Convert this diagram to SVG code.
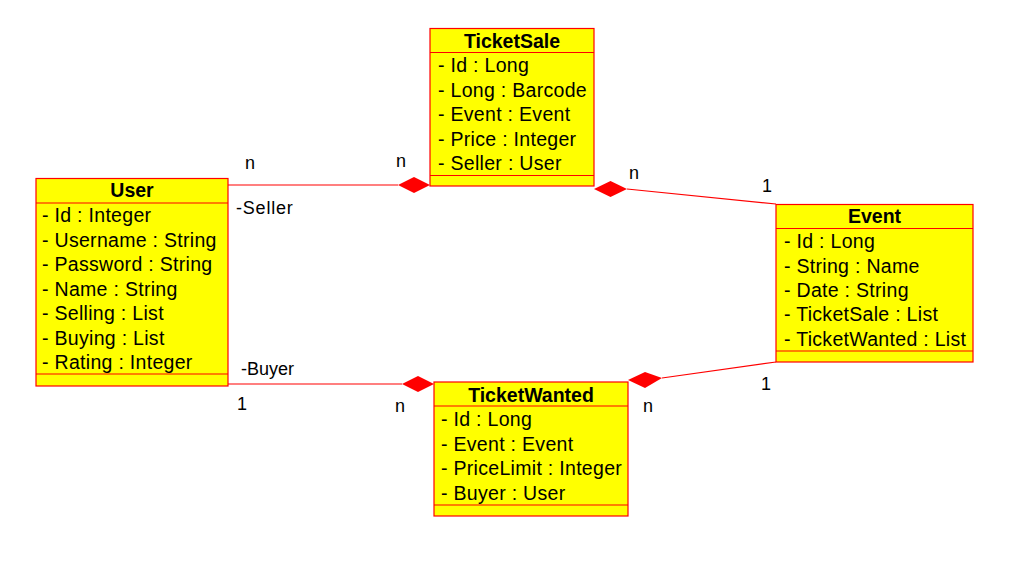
<svg xmlns="http://www.w3.org/2000/svg" width="1013" height="572" viewBox="0 0 1013 572">
<defs>
<style>
.box{fill:#ffff00;stroke:#ff0000;stroke-width:1.2}
.sep{stroke:#ff0000;stroke-width:1.2;fill:none}
.hd{font-family:"Liberation Sans",Arial,sans-serif;font-size:19.5px;font-weight:bold;text-anchor:middle;fill:#000}
.at{font-family:"Liberation Sans",Arial,sans-serif;font-size:19.5px;letter-spacing:0.3px;fill:#000}
.lb{font-family:"Liberation Sans",Arial,sans-serif;font-size:18px;fill:#000}
.ln{stroke:#ff0000;stroke-width:1.2;fill:none}
.dm{fill:#ff0000;stroke:none}
</style>
</defs>
<rect width="1013" height="572" fill="#ffffff"/>
<g id="connectors">
<line class="ln" x1="228" y1="185" x2="398" y2="185"/>
<polygon class="dm" points="398,185 414,177 430,185 414,193"/>
<line class="ln" x1="627" y1="189" x2="776" y2="204"/>
<polygon class="dm" points="594,189 610.5,181 627,189 610.5,197"/>
<line class="ln" x1="228" y1="384" x2="402" y2="384"/>
<polygon class="dm" points="402,384 418,376 434,384 418,392"/>
<line class="ln" x1="662" y1="378" x2="776" y2="362"/>
<polygon class="dm" points="628,380 645,372 662,378 645,388"/>
<text class="lb" x="245" y="169">n</text>
<text class="lb" x="396" y="167">n</text>
<text class="lb" x="236" y="214" style="letter-spacing:0.8px">-Seller</text>
<text class="lb" x="241" y="375">-Buyer</text>
<text class="lb" x="629" y="179">n</text>
<text class="lb" x="762" y="192">1</text>
<text class="lb" x="237" y="410">1</text>
<text class="lb" x="395" y="412">n</text>
<text class="lb" x="761" y="390">1</text>
<text class="lb" x="643" y="412">n</text>
</g>
<g id="TicketSale">
<rect class="box" x="430" y="28.5" width="164" height="157.5"/>
<line class="sep" x1="430" y1="52.5" x2="594" y2="52.5"/>
<line class="sep" x1="430" y1="175.5" x2="594" y2="175.5"/>
<text class="hd" x="512" y="48">TicketSale</text>
<text class="at" x="438" y="72">- Id : Long</text>
<text class="at" x="438" y="97">- Long : Barcode</text>
<text class="at" x="438" y="121">- Event : Event</text>
<text class="at" x="438" y="146">- Price : Integer</text>
<text class="at" x="438" y="170">- Seller : User</text>
</g>
<g id="User">
<rect class="box" x="36" y="178.5" width="192" height="207.5"/>
<line class="sep" x1="36" y1="203" x2="228" y2="203"/>
<line class="sep" x1="36" y1="374" x2="228" y2="374"/>
<text class="hd" x="132" y="197">User</text>
<text class="at" x="42" y="222">- Id : Integer</text>
<text class="at" x="42" y="247">- Username : String</text>
<text class="at" x="42" y="271">- Password : String</text>
<text class="at" x="42" y="296">- Name : String</text>
<text class="at" x="42" y="320">- Selling : List</text>
<text class="at" x="42" y="345">- Buying : List</text>
<text class="at" x="42" y="369">- Rating : Integer</text>
</g>
<g id="Event">
<rect class="box" x="776" y="204.5" width="197" height="157.5"/>
<line class="sep" x1="776" y1="228.5" x2="973" y2="228.5"/>
<line class="sep" x1="776" y1="351" x2="973" y2="351"/>
<text class="hd" x="874.5" y="223">Event</text>
<text class="at" x="784" y="248">- Id : Long</text>
<text class="at" x="784" y="273">- String : Name</text>
<text class="at" x="784" y="297">- Date : String</text>
<text class="at" x="784" y="321">- TicketSale : List</text>
<text class="at" x="784" y="346">- TicketWanted : List</text>
</g>
<g id="TicketWanted">
<rect class="box" x="434" y="382" width="194" height="134"/>
<line class="sep" x1="434" y1="406" x2="628" y2="406"/>
<line class="sep" x1="434" y1="505" x2="628" y2="505"/>
<text class="hd" x="531" y="402">TicketWanted</text>
<text class="at" x="441" y="426">- Id : Long</text>
<text class="at" x="441" y="451">- Event : Event</text>
<text class="at" x="441" y="475">- PriceLimit : Integer</text>
<text class="at" x="441" y="500">- Buyer : User</text>
</g>
</svg>
